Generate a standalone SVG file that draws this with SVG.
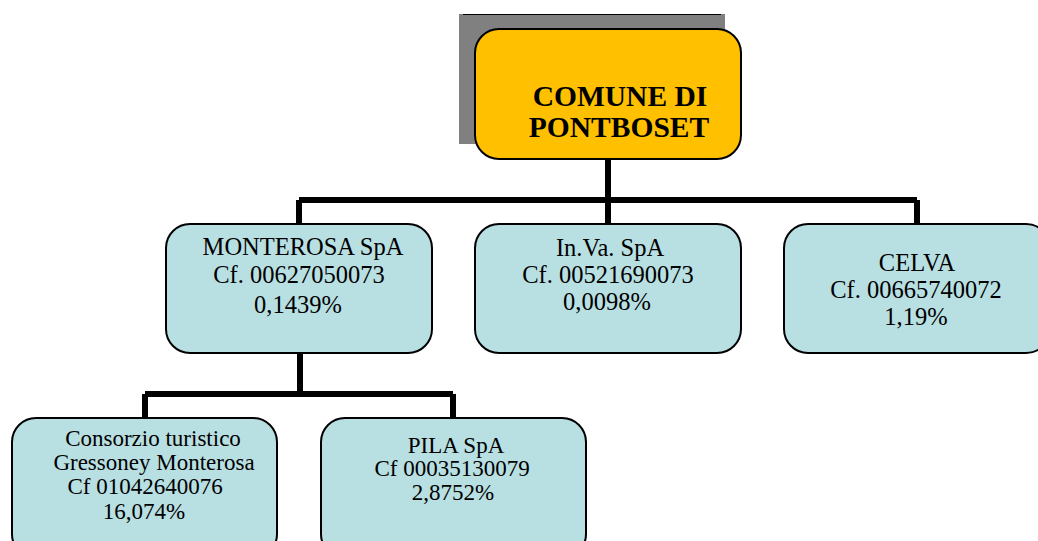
<svg xmlns="http://www.w3.org/2000/svg" width="1038" height="541" viewBox="0 0 1038 541">
<style>
.box{fill:#B8DFE2;stroke:#000;stroke-width:2}
.top{fill:#FFC000;stroke:#000;stroke-width:2}
.t{font-family:"Liberation Serif","Times New Roman",serif;font-size:24.5px;fill:#000;text-anchor:middle}
.s{font-size:23px}
.b{font-weight:bold;font-size:29.5px}
.conn{fill:none;stroke:#000;stroke-width:6}
</style>
<rect width="1038" height="541" fill="#fff"/>
<g id="connectors">
<path class="conn" d="M608 159V200M299 200H917M299 200V224M608 200V224M917 200V224"/>
<path class="conn" d="M300 353V394M145 394H453M145 394V418M453 394V418"/>
</g>
<g id="comune">
<rect x="459" y="14" width="266" height="130" fill="#808080"/>
<line x1="463" y1="14.5" x2="721" y2="14.5" stroke="#000" stroke-width="1"/>
<rect class="top" x="475" y="29" width="266" height="130" rx="24"/>
<text class="t b" x="620" y="106">COMUNE DI</text>
<text class="t b" x="619" y="137">PONTBOSET</text>
</g>
<g id="monterosa">
<rect class="box" x="166" y="224" width="266" height="129" rx="24"/>
<text class="t" x="303" y="255">MONTEROSA SpA</text>
<text class="t" x="299" y="283">Cf. 00627050073</text>
<text class="t" x="298" y="313">0,1439%</text>
</g>
<g id="inva">
<rect class="box" x="475" y="224" width="266" height="129" rx="24"/>
<text class="t" x="610" y="256">In.Va. SpA</text>
<text class="t" x="608" y="283">Cf. 00521690073</text>
<text class="t" x="607" y="310">0,0098%</text>
</g>
<g id="celva">
<rect class="box" x="784" y="224" width="266" height="129" rx="24"/>
<text class="t" x="917" y="271">CELVA</text>
<text class="t" x="916" y="298">Cf. 00665740072</text>
<text class="t" x="916" y="325">1,19%</text>
</g>
<g id="consorzio">
<rect class="box" x="12" y="418" width="265" height="140" rx="24"/>
<text class="t s" x="153" y="446">Consorzio turistico</text>
<text class="t s" x="154" y="470">Gressoney Monterosa</text>
<text class="t s" x="145" y="494">Cf 01042640076</text>
<text class="t s" x="144" y="519">16,074%</text>
</g>
<g id="pila">
<rect class="box" x="321" y="418" width="265" height="140" rx="24"/>
<text class="t s" x="456" y="453">PILA SpA</text>
<text class="t s" x="452" y="476">Cf 00035130079</text>
<text class="t s" x="453" y="500">2,8752%</text>
</g>
</svg>
